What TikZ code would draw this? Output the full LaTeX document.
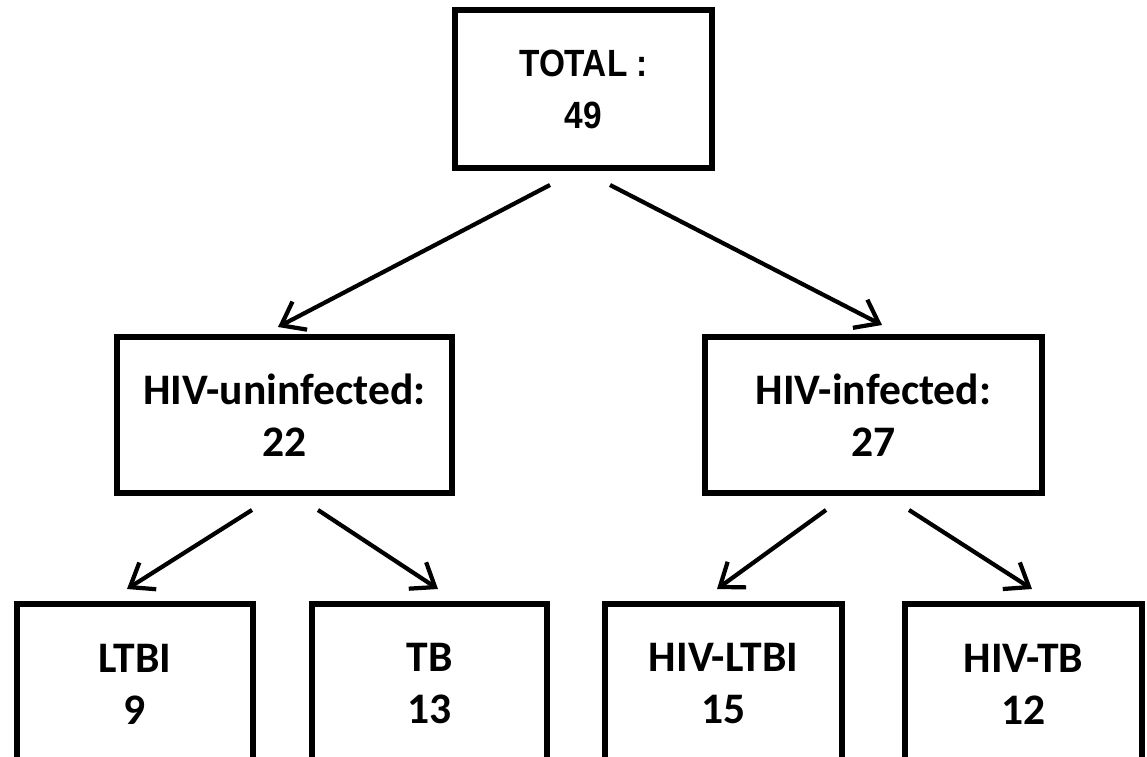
\documentclass[tikz,border=0pt]{standalone}
\usepackage{fontspec}
\setmainfont{Carlito}
\newfontfamily\arialfont[FakeStretch=0.88]{Liberation Sans}
\usetikzlibrary{arrows.meta}

\begin{document}
\begin{tikzpicture}[
  box/.style={draw, line width=1.7pt, minimum height=1.56cm, align=center, inner sep=0pt,
    font=\fontsize{12.4}{14.8}\selectfont\bfseries},
  leaf/.style={box, minimum height=1.6cm},
  arr/.style={line width=1.2pt, -{Straight Barb[length=6pt,width=9pt,line width=1.2pt]}}
]
\useasboundingbox (0,0) rectangle (11.47,-7.57);
\clip (0,0) rectangle (11.47,-7.57);

\node[box, minimum width=2.57cm, minimum height=1.58cm,
  font=\arialfont\fontsize{10.8}{14.8}\selectfont\bfseries] (total) at (5.835,-0.89) {TOTAL :\\49};

\node[box, minimum width=3.35cm] (uninf) at (2.845,-4.15) {HIV-uninfected:\\22};
\node[box, minimum width=3.37cm] (inf) at (8.735,-4.15) {HIV-infected:\\27};

% leaves run off the bottom edge
\node[leaf, minimum width=2.36cm] (ltbi) at (1.35,-6.84) {LTBI\\9};
\node[leaf, minimum width=2.35cm] (tb) at (4.295,-6.84) {TB\\13};
\node[leaf, minimum width=2.37cm] (hivltbi) at (7.235,-6.84) {HIV-LTBI\\15};
\node[leaf, minimum width=2.37cm] (hivtb) at (10.235,-6.84) {HIV-TB\\12};

\draw[arr] ([shift={(-0.335,-0.14)}]total.south) -- ([shift={(-0.065,0.07)}]uninf.north);
\draw[arr] ([shift={(0.265,-0.14)}]total.south) -- ([shift={(0.085,0.09)}]inf.north);

\draw[arr] ([shift={(-0.325,-0.14)}]uninf.south) -- ([shift={(-0.08,0.12)}]ltbi.north);
\draw[arr] ([shift={(0.335,-0.14)}]uninf.south) -- ([shift={(0.085,0.12)}]tb.north);

\draw[arr] ([shift={(-0.475,-0.14)}]inf.south) -- ([shift={(-0.065,0.12)}]hivltbi.north);
\draw[arr] ([shift={(0.355,-0.14)}]inf.south) -- ([shift={(0.085,0.12)}]hivtb.north);

\end{tikzpicture}
\end{document}
